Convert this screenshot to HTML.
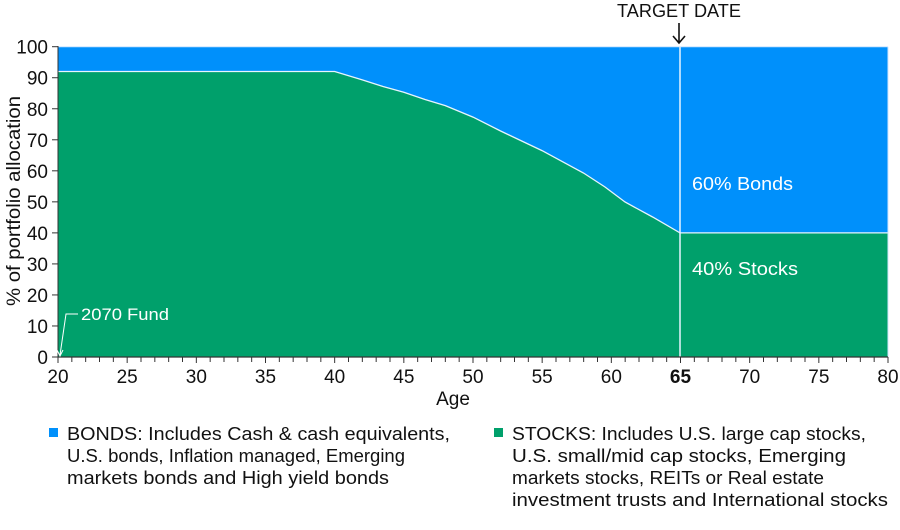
<!DOCTYPE html>
<html><head><meta charset="utf-8"><style>
html,body{margin:0;padding:0;background:#fff;}
svg{display:block;font-family:"Liberation Sans",sans-serif;}
</style></head><body>
<svg width="900" height="530" viewBox="0 0 900 530" xmlns="http://www.w3.org/2000/svg">
<rect x="58" y="46.7" width="830" height="310.3" fill="#0090fb"/>
<path d="M58,357 L58,71.5 L334.7,71.5 L362.3,79.9 L383,86.5 L403.8,92.3 L425,99.5 L445.3,105.6 L473,117.1 L500.6,131 L542,150.6 L583.5,173 L605,187 L625,202 L652.6,217 L680,232.9 L888,232.9 L888,357 Z" fill="#00a06b"/>
<path d="M58,71.5 L334.7,71.5 L362.3,79.9 L383,86.5 L403.8,92.3 L425,99.5 L445.3,105.6 L473,117.1 L500.6,131 L542,150.6 L583.5,173 L605,187 L625,202 L652.6,217 L680,232.9 L888,232.9" fill="none" stroke="#e8f4ff" stroke-width="1.3"/>
<line x1="680" y1="46.7" x2="680" y2="357" stroke="#e8f4ff" stroke-width="1.5"/>
<line x1="888" y1="46.7" x2="888" y2="357" stroke="#cfe6ff" stroke-width="1"/>
<line x1="58" y1="46.7" x2="888" y2="46.7" stroke="#cfe6ff" stroke-width="1"/>
<line x1="58" y1="46" x2="58" y2="357" stroke="#333" stroke-width="1"/>
<line x1="58" y1="357" x2="888" y2="357" stroke="#333" stroke-width="1.2"/>
<g stroke="#333" stroke-width="1" id="ticks"></g>
<g font-size="19" fill="#111" text-anchor="end" id="ylab"></g>
<g font-size="19" fill="#111" text-anchor="middle" id="xlab"></g>
<text x="453" y="405" font-size="19" fill="#111" text-anchor="middle">Age</text>
<text transform="translate(20,201) rotate(-90)" font-size="19" fill="#111" text-anchor="middle" textLength="210" lengthAdjust="spacingAndGlyphs">% of portfolio allocation</text>
<text x="679" y="17" font-size="18" fill="#111" text-anchor="middle" textLength="124" lengthAdjust="spacingAndGlyphs">TARGET DATE</text>
<path d="M679,23 L679,42 M673,36 L679,43 L685,36" stroke="#111" stroke-width="1.6" fill="none"/>
<text x="692" y="190" font-size="18" fill="#fff" textLength="101" lengthAdjust="spacingAndGlyphs">60% Bonds</text>
<text x="692" y="275" font-size="18" fill="#fff" textLength="106" lengthAdjust="spacingAndGlyphs">40% Stocks</text>
<text x="81" y="320" font-size="17" fill="#fff" textLength="88" lengthAdjust="spacingAndGlyphs">2070 Fund</text>
<path d="M78,314 L66,314 L60,355 M57,350 L60,356 L63,350" stroke="#fff" stroke-width="1" fill="none"/>
<rect x="49" y="428" width="9" height="9" fill="#0090fb"/>
<rect x="494" y="428" width="9" height="9" fill="#00a06b"/>
<g font-size="18" fill="#111">
<text x="67" y="440" textLength="383" lengthAdjust="spacingAndGlyphs">BONDS: Includes Cash &amp; cash equivalents,</text>
<text x="67" y="462" textLength="338" lengthAdjust="spacingAndGlyphs">U.S. bonds, Inflation managed, Emerging</text>
<text x="67" y="484" textLength="322" lengthAdjust="spacingAndGlyphs">markets bonds and High yield bonds</text>
<text x="512" y="440" textLength="354" lengthAdjust="spacingAndGlyphs">STOCKS: Includes U.S. large cap stocks,</text>
<text x="512" y="462" textLength="334" lengthAdjust="spacingAndGlyphs">U.S. small/mid cap stocks, Emerging</text>
<text x="512" y="484" textLength="312" lengthAdjust="spacingAndGlyphs">markets stocks, REITs or Real estate</text>
<text x="512" y="506" textLength="376" lengthAdjust="spacingAndGlyphs">investment trusts and International stocks</text>
</g>
<script>
var ns="http://www.w3.org/2000/svg";
var t=document.getElementById("ticks"),yl=document.getElementById("ylab"),xl=document.getElementById("xlab");
for(var a=20;a<=80;a++){var x=58+(a-20)*830/60;var l=document.createElementNS(ns,"line");l.setAttribute("x1",x);l.setAttribute("x2",x);l.setAttribute("y1",357);l.setAttribute("y2",a%5==0?363:362);t.appendChild(l);
if(a%5==0){var tx=document.createElementNS(ns,"text");tx.setAttribute("x",x);tx.setAttribute("y",383);tx.textContent=a;if(a==65)tx.setAttribute("font-weight","bold");xl.appendChild(tx);}}
for(var v=0;v<=100;v+=10){var y=357-v*3.103;var l=document.createElementNS(ns,"line");l.setAttribute("x1",52);l.setAttribute("x2",58);l.setAttribute("y1",y);l.setAttribute("y2",y);t.appendChild(l);
var tx=document.createElementNS(ns,"text");tx.setAttribute("x",48);tx.setAttribute("y",y+7);tx.textContent=v;yl.appendChild(tx);}
</script>
</svg>
</body></html>
